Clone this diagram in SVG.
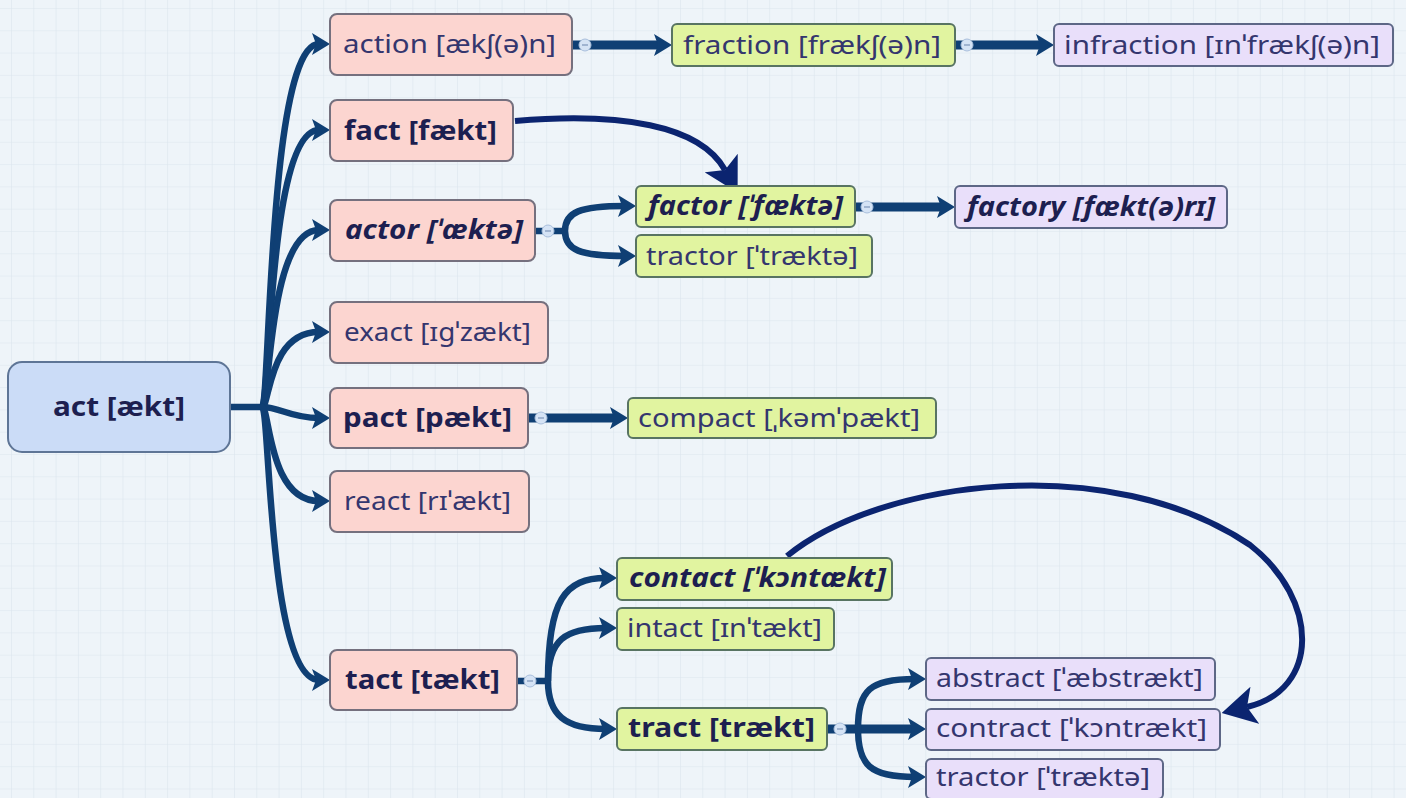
<svg xmlns="http://www.w3.org/2000/svg" width="1406" height="798" viewBox="0 0 1406 798">
<defs>
<pattern id="grid" width="22.3" height="22.3" patternUnits="userSpaceOnUse" patternTransform="translate(11 8)">
<path d="M0 0 H22.3 M0 0 V22.3" fill="none" stroke="#dbe5ee" stroke-width="1.2"/>
</pattern>
<marker id="arr" markerUnits="userSpaceOnUse" markerWidth="18" markerHeight="22" viewBox="0 0 18 22" refX="7" refY="11" orient="auto">
<path d="M0 0 L18 11 L0 22 L4 11 z" fill="#0f3f74"/>
</marker>
<marker id="big" markerUnits="userSpaceOnUse" markerWidth="34" markerHeight="38" viewBox="0 0 34 38" refX="8" refY="19" orient="auto">
<path d="M0 0 L34 19 L0 38 L8 19 z" fill="#0b2470"/>
</marker>
<style>
.bg{fill:#eef4f9}
.c{fill:none;stroke:#0f3f74;stroke-width:6.5;stroke-linecap:butt}
.s{fill:none;stroke:#0f3f74;stroke-width:9}
.b{fill:none;stroke:#0b2470;stroke-width:6}
.root{fill:#cbdcf7;stroke:#5e7596;stroke-width:2}
.pink{fill:#fcd5d0;stroke:#75707e;stroke-width:2}
.green{fill:#e1f4a0;stroke:#587462;stroke-width:2}
.purple{fill:#e9dffa;stroke:#5d6786;stroke-width:2}
text{font-family:"Noto Sans","DejaVu Sans",sans-serif;font-size:26px;fill:#34366e}
.bd{font-weight:bold;fill:#1d1f50}
.bi{font-weight:bold;font-style:italic;fill:#1d1f50}
.tg{fill:#d5e3f5;stroke:#a9bfdc;stroke-width:1}
.tm{stroke:#8ea4c4;stroke-width:1.5}
</style>
</defs>
<rect class="bg" width="1406" height="798"/>
<rect fill="url(#grid)" width="1406" height="798"/>

<g id="connectors">
<path class="c" d="M230 407 H264" stroke-width="7"/>
<path class="c" marker-end="url(#arr)" d="M262 407 C270 407, 268 44, 319 44"/>
<path class="c" marker-end="url(#arr)" d="M262 407 C270 407, 268 130, 319 130"/>
<path class="c" marker-end="url(#arr)" d="M262 407 C270 407, 268 230, 319 230"/>
<path class="c" marker-end="url(#arr)" d="M262 407 C270 407, 268 332, 319 332"/>
<path class="c" marker-end="url(#arr)" d="M262 407 C280 407, 290 418, 319 418"/>
<path class="c" marker-end="url(#arr)" d="M262 407 C270 407, 268 501, 319 501"/>
<path class="c" marker-end="url(#arr)" d="M262 407 C270 407, 268 680, 319 680"/>

<path class="s" marker-end="url(#arr)" d="M572 45 H661"/>
<path class="s" marker-end="url(#arr)" d="M955 45 H1043"/>
<path class="s" marker-end="url(#arr)" d="M855 207 H944"/>
<path class="s" marker-end="url(#arr)" d="M528 418 H617"/>

<path class="c" d="M535 231 H566"/>
<path class="c" marker-end="url(#arr)" d="M565 231 C565 212, 580 206, 625 206"/>
<path class="c" marker-end="url(#arr)" d="M565 231 C565 250, 580 256, 625 256"/>

<path class="c" d="M517 681 H550"/>
<path class="c" marker-end="url(#arr)" d="M548 681 C548 600, 565 578, 606 578"/>
<path class="c" marker-end="url(#arr)" d="M548 681 C548 640, 565 628, 606 628"/>
<path class="c" marker-end="url(#arr)" d="M548 681 C548 715, 565 729, 606 729"/>

<path class="s" marker-end="url(#arr)" d="M827 729 H915"/>
<path class="c" marker-end="url(#arr)" d="M858 729 C858 690, 870 679, 915 679"/>
<path class="c" marker-end="url(#arr)" d="M858 729 C858 765, 870 777, 915 777"/>

<path class="b" marker-end="url(#big)" d="M515 121 C620 112, 700 125, 725 170"/>
<path class="b" marker-end="url(#big)" d="M787 556 C880 480, 1110 450, 1250 545 C1320 600, 1320 690, 1247 707"/>
</g>

<g id="act"><rect class="root" x="8" y="362" width="222" height="90" rx="14"/><text class="bd" x="53" y="416" font-size="28" textLength="132" lengthAdjust="spacingAndGlyphs">act [ækt]</text></g>

<g id="action"><rect class="pink" x="330" y="14" width="242" height="61" rx="7"/><text x="343" y="53" textLength="213" lengthAdjust="spacingAndGlyphs">action [ækʃ(ə)n]</text><circle class="tg" cx="585" cy="45" r="6"/><path class="tm" d="M582 45 H588"/></g>
<g id="fact"><rect class="pink" x="330" y="100" width="183" height="61" rx="7"/><text class="bd" x="344" y="140" textLength="153" lengthAdjust="spacingAndGlyphs">fact [fækt]</text></g>
<g id="actor"><rect class="pink" x="330" y="200" width="205" height="61" rx="7"/><text class="bi" x="345" y="239" textLength="178" lengthAdjust="spacingAndGlyphs">actor [ˈæktə]</text><circle class="tg" cx="548" cy="231" r="6"/><path class="tm" d="M545 231 H551"/></g>
<g id="exact"><rect class="pink" x="330" y="302" width="218" height="61" rx="7"/><text x="344" y="341" textLength="187" lengthAdjust="spacingAndGlyphs">exact [ɪgˈzækt]</text></g>
<g id="pact"><rect class="pink" x="330" y="388" width="198" height="60" rx="7"/><text class="bd" x="343" y="427" textLength="169" lengthAdjust="spacingAndGlyphs">pact [pækt]</text><circle class="tg" cx="541" cy="418" r="6"/><path class="tm" d="M538 418 H544"/></g>
<g id="react"><rect class="pink" x="330" y="471" width="199" height="61" rx="7"/><text x="344" y="510" textLength="167" lengthAdjust="spacingAndGlyphs">react [rɪˈækt]</text></g>
<g id="tact"><rect class="pink" x="330" y="650" width="187" height="60" rx="7"/><text class="bd" x="345" y="689" textLength="155" lengthAdjust="spacingAndGlyphs">tact [tækt]</text><circle class="tg" cx="530" cy="681" r="6"/><path class="tm" d="M527 681 H533"/></g>

<g id="fraction"><rect class="green" x="672" y="24" width="283" height="42" rx="5"/><text x="683" y="54" textLength="258" lengthAdjust="spacingAndGlyphs">fraction [frækʃ(ə)n]</text><circle class="tg" cx="967" cy="45" r="6"/><path class="tm" d="M964 45 H970"/></g>
<g id="factor"><rect class="green" x="636" y="186" width="219" height="41" rx="5"/><text class="bi" x="648" y="215" textLength="195" lengthAdjust="spacingAndGlyphs">factor [ˈfæktə]</text><circle class="tg" cx="867" cy="207" r="6"/><path class="tm" d="M864 207 H870"/></g>
<g id="tractor-green"><rect class="green" x="636" y="235" width="236" height="42" rx="5"/><text x="646" y="265" textLength="212" lengthAdjust="spacingAndGlyphs">tractor [ˈtræktə]</text></g>
<g id="compact"><rect class="green" x="628" y="398" width="308" height="40" rx="5"/><text x="638" y="427" textLength="282" lengthAdjust="spacingAndGlyphs">compact [ˌkəmˈpækt]</text></g>
<g id="contact"><rect class="green" x="617" y="558" width="275" height="42" rx="5"/><text class="bi" x="629" y="587" textLength="257" lengthAdjust="spacingAndGlyphs">contact [ˈkɔntækt]</text></g>
<g id="intact"><rect class="green" x="617" y="608" width="217" height="42" rx="5"/><text x="627" y="637" textLength="195" lengthAdjust="spacingAndGlyphs">intact [ɪnˈtækt]</text></g>
<g id="tract"><rect class="green" x="617" y="708" width="210" height="42" rx="5"/><text class="bd" x="628" y="737" textLength="187" lengthAdjust="spacingAndGlyphs">tract [trækt]</text><circle class="tg" cx="840" cy="729" r="6"/><path class="tm" d="M837 729 H843"/></g>

<g id="infraction"><rect class="purple" x="1054" y="24" width="339" height="42" rx="5"/><text x="1064" y="54" textLength="316" lengthAdjust="spacingAndGlyphs">infraction [ɪnˈfrækʃ(ə)n]</text></g>
<g id="factory"><rect class="purple" x="955" y="186" width="272" height="42" rx="5"/><text class="bi" x="967" y="216" textLength="248" lengthAdjust="spacingAndGlyphs">factory [fækt(ə)rɪ]</text></g>
<g id="abstract"><rect class="purple" x="926" y="658" width="289" height="42" rx="5"/><text x="936" y="687" textLength="267" lengthAdjust="spacingAndGlyphs">abstract [ˈæbstrækt]</text></g>
<g id="contract"><rect class="purple" x="926" y="709" width="294" height="41" rx="5"/><text x="936" y="737" textLength="271" lengthAdjust="spacingAndGlyphs">contract [ˈkɔntrækt]</text></g>
<g id="tractor-purple"><rect class="purple" x="926" y="759" width="237" height="40" rx="5"/><text x="936" y="786" textLength="214" lengthAdjust="spacingAndGlyphs">tractor [ˈtræktə]</text></g>
</svg>
